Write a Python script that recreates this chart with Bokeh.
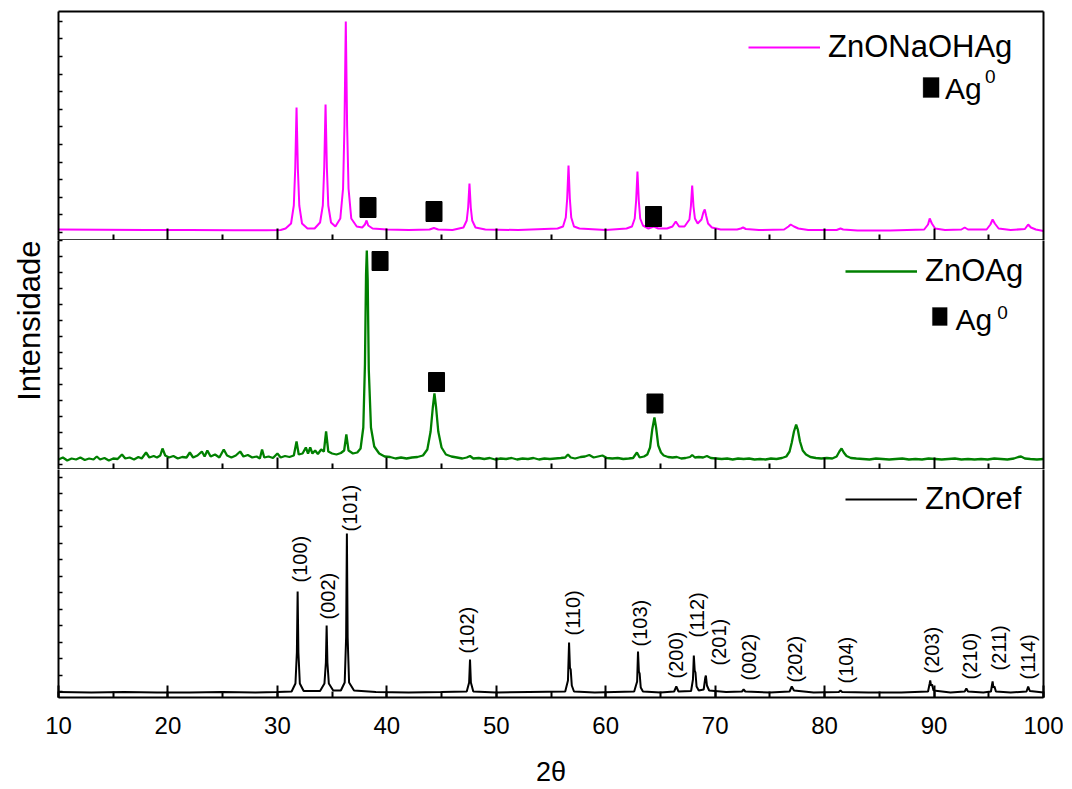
import numpy as np
from bokeh.plotting import figure
from bokeh.layouts import column
from bokeh.models import (Range1d, SingleIntervalTicker, FixedTicker, LinearAxis,
                          Legend, LegendItem, Label, BoxAnnotation, Title)
from bokeh.embed import file_html
from bokeh.resources import INLINE
from bokeh.core.properties import value

FONT = "Liberation Sans"

# ---------------- data (intensity in arbitrary units) ----------------
# ZnONaOHAg (top panel)
naoh_x = [10, 14, 18, 22, 26, 29, 30.3, 30.75, 31.25, 31.5, 31.63, 31.75, 31.87, 32.0, 32.25, 32.75,
          33.4, 33.9, 34.15, 34.28, 34.4, 34.52, 34.65, 34.9, 35.3, 35.75, 36.0, 36.13, 36.25, 36.37,
          36.5, 36.75, 37.25, 37.75, 38.0, 38.15, 38.3, 38.7, 40, 42, 43.9, 44.3, 44.7, 46, 47.0, 47.3,
          47.43, 47.55, 47.67, 47.8, 48.1, 49, 52, 55.6, 56.1, 56.35, 56.48, 56.6, 56.72, 56.85, 57.1,
          57.6, 60, 61.9, 62.4, 62.65, 62.78, 62.9, 63.02, 63.15, 63.4, 63.9, 64.4, 64.8, 65.6, 66.1,
          66.4, 66.7, 67.2, 67.65, 67.78, 67.9, 68.02, 68.15, 68.4, 68.75, 68.92, 69.05, 69.17, 69.35,
          69.7, 70.5, 72.0, 72.35, 72.55, 72.8, 74, 76.3, 76.7, 76.9, 77.2, 77.6, 78.5, 81.1, 81.45,
          81.7, 83, 86, 89.1, 89.45, 89.6, 89.8, 90.1, 91, 92.5, 92.8, 93.1, 94.8, 95.15, 95.35, 95.55,
          95.9, 97, 98.3, 98.6, 98.85, 99.3, 100]
naoh_y = [11, 10.8, 10.5, 10.5, 10.2, 10.2, 10.5, 12, 17, 35, 72, 133, 72, 35, 17, 12,
          12, 18, 35, 73, 136, 73, 35, 18, 14, 22, 52, 115, 219, 115,
          52, 22, 14, 13, 16, 20, 15, 12, 11, 10.5, 11, 12.5, 11, 10.5, 13, 20,
          33, 57, 33, 20, 13, 11, 10.5, 12, 14, 23, 42, 75, 42, 23, 14,
          12, 10.5, 12, 14, 22, 40, 69, 40, 22, 15, 12, 14, 12, 12, 14,
          19, 14, 14, 21, 34, 55, 34, 22, 17, 21, 28, 31, 25, 17,
          13, 11, 11, 12, 13, 11.5, 10.5, 11, 14, 16, 14, 12, 10.5, 10.5, 12,
          11, 10, 10, 11, 16, 22, 17, 12, 10.5, 11, 13, 11, 11, 16, 21, 17,
          12, 10.5, 11.5, 16, 13, 11, 9.5]
naoh_ag_x = [38.28, 44.31, 64.37]
naoh_ag_y = [33, 29, 24]

# ZnOAg (middle panel)
ag_x = [10, 10.4, 10.8, 11.2, 11.6, 12.0, 12.4, 12.8, 13.2, 13.5, 13.8, 14.2, 14.6, 15.0, 15.4, 15.8,
        16.1, 16.5, 16.9, 17.3, 17.6, 18.0, 18.3, 18.7, 19.0, 19.3, 19.5, 19.75, 20.1, 20.5, 20.9,
        21.3, 21.7, 22.0, 22.3, 22.7, 23.1, 23.35, 23.6, 23.9, 24.3, 24.7, 25.1, 25.4, 25.8, 26.2,
        26.6, 26.9, 27.3, 27.7, 28.1, 28.4, 28.6, 28.8, 29.2, 29.6, 30.0, 30.3, 30.7, 31.1, 31.5,
        31.75, 31.95, 32.3, 32.6, 32.8, 33.0, 33.2, 33.45, 33.7, 34.0, 34.25, 34.45, 34.65, 35.0,
        35.4, 35.8, 36.1, 36.3, 36.5, 36.9, 37.3, 37.6, 37.85, 38.0, 38.1, 38.17, 38.25, 38.35,
        38.55, 38.85, 39.3, 39.8, 40.3, 40.8, 41.3, 41.8, 42.3, 42.8, 43.3, 43.7, 44.0, 44.2, 44.35,
        44.5, 44.7, 45.0, 45.4, 45.9, 46.4, 46.9, 47.3, 47.6, 47.9, 48.4, 48.9, 49.4, 49.9, 50.4,
        50.9, 51.4, 51.9, 52.4, 52.9, 53.4, 53.9, 54.4, 54.9, 55.4, 55.9, 56.3, 56.55, 56.8, 57.2,
        57.7, 58.1, 58.5, 58.9, 59.3, 59.7, 60.1, 60.6, 61.1, 61.6, 62.1, 62.5, 62.85, 63.1, 63.5,
        63.8, 64.05, 64.25, 64.45, 64.6, 64.8, 65.05, 65.3, 65.7, 66.1, 66.5, 66.9, 67.3, 67.7,
        67.9, 68.15, 68.5, 68.9, 69.25, 69.6, 70.1, 70.6, 71.1, 71.6, 72.1, 72.6, 73.1, 73.6, 74.1,
        74.6, 75.1, 75.6, 76.1, 76.5, 76.8, 77.0, 77.2, 77.4, 77.55, 77.75, 78.0, 78.3, 78.7, 79.2,
        79.7, 80.2, 80.7, 81.1, 81.35, 81.55, 81.75, 82.0, 82.4, 82.9, 83.5, 84.1, 84.7, 85.3,
        85.9, 86.5, 87.1, 87.7, 88.3, 88.9, 89.5, 90.1, 90.7, 91.3, 91.9, 92.5, 93.1, 93.7, 94.3,
        94.9, 95.5, 96.1, 96.7, 97.3, 97.7, 97.95, 98.3, 98.8, 99.4, 100]
ag_y = [10, 12, 9, 11, 10, 12, 9.5, 11, 10, 13, 10, 11.5, 9, 11, 10.5, 15,
        11, 12, 10, 12.5, 11, 17, 12, 13.5, 12, 14, 21, 14, 12, 13.5, 11,
        12.5, 12, 17, 12, 14, 18, 13, 19, 13, 15, 12, 20, 14, 12, 14,
        18, 13, 14.5, 12, 13, 11, 20, 12, 13, 11.5, 16, 12, 13.5, 12.5, 14,
        28, 15, 16, 22, 16, 22, 16, 19, 15.5, 20, 18, 38, 18, 16,
        15, 16.5, 19, 35, 19, 16, 17, 21, 42, 105, 195, 219, 190, 100,
        42, 23, 16, 13, 12.5, 11, 12, 11, 12, 12.5, 14, 20, 38, 62, 76,
        62, 38, 22, 15, 13, 12, 11, 12, 13.5, 11, 11.5, 10.5, 11.5, 10, 11,
        10.5, 11.5, 10, 11, 10.5, 11.5, 10, 11, 10.5, 11, 11.5, 12, 15, 12, 11,
        12.5, 13, 14.5, 12, 13, 14, 11.5, 11, 11.5, 10.5, 11, 11.5, 17, 12, 13,
        15, 22, 40, 52, 42, 24, 17, 14, 12.5, 12, 12.5, 11, 11.5, 12.5,
        14.5, 12, 12.5, 12, 13.5, 11.5, 11, 10.5, 11, 10, 11, 10.5, 11, 10, 10.5,
        10, 11, 10.5, 11.5, 13, 18, 27, 38, 45, 40, 28, 19, 15, 12.5, 11.5,
        11, 11.5, 11, 13, 18, 21, 17, 13.5, 11.5, 11, 10.5, 10, 11, 10.5,
        10, 10.5, 11, 10, 10.5, 10, 11, 10.5, 10, 10.5, 11, 10, 10.5, 10, 10.5,
        10, 11, 10.5, 10, 11, 12.5, 13, 11, 10.5, 10, 10.5]
ag_ag_x = [39.38, 44.54, 64.5]
ag_ag_y = [208.5, 87.5, 66]

# ZnOref (bottom panel)
ref_x = [10, 13, 16, 19, 22, 25, 28, 30, 31.3, 31.65, 31.78, 31.85, 31.92, 32.05, 32.4, 33.9, 34.3,
         34.43, 34.5, 34.57, 34.7, 35.1, 35.8, 36.15, 36.28, 36.35, 36.42, 36.55, 37.0, 39, 42, 45,
         47.3, 47.52, 47.6, 47.68, 47.9, 50, 53, 56.3, 56.55, 56.65, 56.73, 56.8, 56.9, 57.1, 59,
         62.6, 62.87, 62.95, 63.03, 63.1, 63.2, 63.4, 65, 66.25, 66.45, 66.65, 67.8, 67.97, 68.05,
         68.13, 68.2, 68.3, 68.5, 68.95, 69.1, 69.15, 69.25, 69.45, 71, 72.45, 72.6, 72.75, 75,
         76.8, 77.0, 77.2, 79, 81.3, 81.45, 81.6, 84, 87, 89.45, 89.6, 89.65, 89.72, 89.82, 89.95,
         91.5, 92.8, 92.95, 93.1, 94.5, 95.2, 95.3, 95.35, 95.42, 95.52, 95.65, 97, 98.45, 98.6,
         98.75, 100]
ref_y = [5.5, 5, 5.5, 5, 5, 5.5, 5, 5.5, 6, 14, 45, 106, 45, 14, 6.5, 6.5, 14,
         35, 72, 35, 14, 7, 7, 15, 60, 164, 60, 15, 7, 5.5, 5, 5.5,
         6, 15, 38, 15, 6, 5, 5.5, 6, 17, 55, 30, 28, 12, 6, 5,
         6, 16, 46, 26, 24, 10, 6, 5, 6, 11, 6, 6.5, 18, 42,
         27, 25, 11, 7, 8, 20, 22, 12, 7, 5.5, 6, 8, 6, 5,
         6, 11, 7, 5, 5.5, 7, 5.5, 5, 5, 6, 14, 17, 12, 13, 7,
         5, 6, 9, 6, 5, 6, 13, 16, 10, 11, 6, 5, 6, 11,
         6.5, 5]
hkl_labels = ["(100)", "(002)", "(101)", "(102)", "(110)", "(103)", "(200)", "(112)",
              "(201)", "(002)", "(202)", "(104)", "(203)", "(210)", "(211)", "(114)"]
hkl_x = [32.11, 34.58, 36.68, 47.28, 56.97, 63.13, 66.38, 68.30,
         70.31, 73.05, 77.34, 81.91, 89.77, 93.24, 95.89, 98.54]
hkl_y = [115, 78, 166, 44, 62, 51, 19, 60, 32, 17, 15, 14, 24, 18, 27, 18]

x_major = [20, 30, 40, 50, 60, 70, 80, 90]
x_minor = [15, 25, 35, 45, 55, 65, 75, 85, 95]

# ---------------- layout ----------------
LEFT, RIGHT = 58, 20
FRAME_W = 985


def bare_axis(ticker, tick_in=0):
    ax = LinearAxis(ticker=ticker)
    ax.axis_line_width = 2
    ax.axis_line_color = "black"
    ax.major_tick_in = 0
    ax.major_tick_out = 0
    ax.minor_tick_in = tick_in
    ax.minor_tick_out = 0
    ax.minor_tick_line_width = 2
    ax.minor_tick_line_color = "black"
    ax.major_label_standoff = 0
    return ax


def make_panel(frame_h, ymax, yticks, bottom_labels=False, top_line=False, min_top=0):
    p = figure(frame_width=FRAME_W, frame_height=frame_h,
               x_range=Range1d(10, 100), y_range=Range1d(0, ymax),
               x_axis_type=None, y_axis_type=None,
               output_backend="svg", toolbar_location=None,
               min_border_left=LEFT, min_border_right=RIGHT,
               min_border_top=min_top, min_border_bottom=0)
    p.outline_line_color = None
    p.background_fill_color = "white"
    p.border_fill_color = "white"

    if bottom_labels:
        xa = LinearAxis(ticker=SingleIntervalTicker(interval=10, num_minor_ticks=2))
        xa.major_tick_in = 12
        xa.major_tick_out = 0
        xa.minor_tick_in = 6
        xa.minor_tick_out = 0
        xa.axis_line_width = 2
        xa.major_tick_line_width = 2
        xa.minor_tick_line_width = 2
        xa.major_label_text_font = FONT
        xa.major_label_text_font_size = "24px"
        xa.major_label_text_color = "black"
        xa.major_label_standoff = 19
        xa.axis_label = "2θ"
        xa.axis_label_text_font = FONT
        xa.axis_label_text_font_size = "27px"
        xa.axis_label_text_font_style = "normal"
        xa.axis_label_text_color = "black"
        xa.axis_label_standoff = 20
        p.add_layout(xa, "below")
    else:
        p.add_layout(bare_axis(FixedTicker(ticks=[], minor_ticks=x_minor), 6), "below")
        p.add_layout(bare_axis(FixedTicker(ticks=[], minor_ticks=x_major), 12), "below")

    ya = bare_axis(FixedTicker(ticks=[], minor_ticks=yticks), 4)
    ya.minor_tick_line_width = 1.5
    p.add_layout(ya, "left")
    p.add_layout(bare_axis(FixedTicker(ticks=[])), "right")
    if top_line:
        p.add_layout(bare_axis(FixedTicker(ticks=[])), "above")
    return p


def add_ag_legend(p, sq, ag_pos, sup_pos):
    p.add_layout(BoxAnnotation(left=sq[0], right=sq[1], bottom=sq[2], top=sq[3],
                               fill_color="black", fill_alpha=1.0, line_color="black",
                               line_width=1))
    p.add_layout(Label(x=ag_pos[0], y=ag_pos[1], text="Ag", text_font=FONT,
                       text_font_size="30px", text_color="black", text_baseline="alphabetic"))
    p.add_layout(Label(x=sup_pos[0], y=sup_pos[1], text="0", text_font=FONT,
                       text_font_size="19px", text_color="black", text_baseline="alphabetic"))


def make_legend(label, r, loc):
    return Legend(items=[LegendItem(label=label, renderers=[r])], location=loc,
                  padding=0, margin=0, spacing=0, glyph_width=72, glyph_height=20,
                  label_standoff=8, label_text_font=FONT, label_text_font_size="31px",
                  label_text_color="black", border_line_color=None, background_fill_alpha=0)


# Top panel
p1 = make_panel(229, 229, list(np.arange(8, 229, 17.6)), top_line=True, min_top=11)
r1 = p1.line(naoh_x, naoh_y, line_color="#FF00FF", line_width=2)
p1.rect(naoh_ag_x, naoh_ag_y, width=16, height=20, width_units="screen", height_units="screen",
        fill_color="black", line_color="black")
p1.add_layout(make_legend("ZnONaOHAg", r1, (690, 175)))
add_ag_legend(p1, (89.0, 90.46, 143, 163), (91.0, 152), (94.66, 164))

# Middle panel
p2 = make_panel(229, 229, list(np.arange(4.7, 229, 16.0)))
r2 = p2.line(ag_x, ag_y, line_color="#008000", line_width=2.3)
p2.rect(ag_ag_x, ag_ag_y, width=16, height=19, width_units="screen", height_units="screen",
        fill_color="black", line_color="black")
p2.add_layout(make_legend("ZnOAg", r2, (787, 180)))
add_ag_legend(p2, (89.85, 91.2, 144, 162), (91.96, 150), (95.77, 157))
p2.add_layout(Title(text="Intensidade", align="right", offset=0, standoff=20,
                    vertical_align="top",
                    text_font=FONT, text_font_size="31px", text_font_style="normal",
                    text_color="black"), "left")

# Bottom panel
p3 = make_panel(228, 228, list(np.arange(6, 228, 16.5)), bottom_labels=True)
r3 = p3.line(ref_x, ref_y, line_color="black", line_width=2)
p3.text(hkl_x, hkl_y, text=hkl_labels, angle=np.pi / 2, text_align="left",
        text_baseline="middle", text_font=value(FONT), text_font_size="20px", text_color="black")
p3.add_layout(make_legend("ZnOref", r3, (787, 180)))

layout = column(p1, p2, p3, spacing=0)
open("out.html", "w").write(file_html(layout, INLINE))
